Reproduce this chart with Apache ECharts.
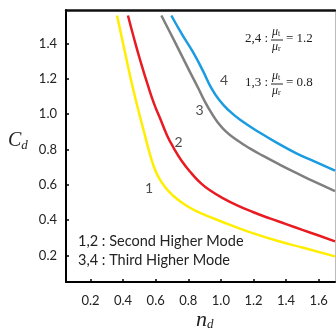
<!DOCTYPE html>
<html><head><meta charset="utf-8">
<script src="https://cdn.jsdelivr.net/npm/echarts@6/dist/echarts.min.js"></script>
<style>html,body{margin:0;padding:0;background:#fff}#c{width:336px;height:333px}</style>
</head><body><div id="c"></div>
<script>
const xTicks = [0.2, 0.4, 0.6, 0.8, 1.0, 1.2, 1.4, 1.6];
const yTicks = [0.2, 0.4, 0.6, 0.8, 1.0, 1.2, 1.4];
// curve 1 (yellow), 2 (red), 3 (gray), 4 (blue): [n_d, C_d]
const curve1 = [[0.363,1.559],[0.40,1.40],[0.44,1.23],[0.47,1.11],[0.50,1.00],[0.53,0.895],[0.56,0.79],[0.59,0.70],[0.62,0.64],[0.66,0.585],[0.70,0.545],[0.76,0.50],[0.84,0.455],[0.96,0.408],[1.06,0.372],[1.20,0.325],[1.35,0.282],[1.50,0.245],[1.70,0.195]];
const curve2 = [[0.43,1.559],[0.47,1.42],[0.51,1.29],[0.55,1.17],[0.59,1.06],[0.63,0.97],[0.67,0.88],[0.71,0.81],[0.76,0.735],[0.82,0.665],[0.88,0.607],[0.94,0.565],[1.00,0.531],[1.10,0.484],[1.20,0.445],[1.30,0.41],[1.40,0.378],[1.50,0.345],[1.60,0.313],[1.70,0.28]];
const curve3 = [[0.635,1.559],[0.69,1.46],[0.75,1.35],[0.81,1.24],[0.86,1.15],[0.90,1.075],[0.94,1.01],[0.98,0.955],[1.03,0.903],[1.10,0.852],[1.18,0.805],[1.257,0.765],[1.36,0.715],[1.462,0.668],[1.58,0.615],[1.70,0.565]];
const curve4 = [[0.696,1.559],[0.76,1.455],[0.83,1.35],[0.89,1.245],[0.94,1.15],[0.99,1.08],[1.05,1.02],[1.12,0.967],[1.24,0.895],[1.35,0.835],[1.46,0.78],[1.58,0.73],[1.70,0.68]];
const curveLabels = [["1",0.56,0.58],["2",0.74,0.84],["3",0.87,1.02],["4",1.02,1.19]];
const modeText = ["1,2 : Second Higher Mode", "3,4 : Third Higher Mode"];

const chart = echarts.init(document.getElementById('c'));
const txt = '#222';
const FF = 'Lato';
function line(data, color){
  return {type:'line', data, smooth:0.5, symbol:'none', lineStyle:{color, width:2.5}, z:3};
}
const labelSeries = {
  type:'scatter', symbolSize:0, data: curveLabels.map(d=>({value:[d[1],d[2]], name:d[0]})),
  label:{show:true, position:'inside', formatter:p=>p.name, fontFamily:FF, fontSize:14, color:txt}
};
function frac(x, y, lead, val){
  return {type:'group', left:x, top:y, children:[
    {type:'text', x:0, y:6, style:{text:lead, font:'13px "Liberation Serif"', fill:txt}},
    {type:'text', x:27, y:0, style:{text:'{m|μ}{s|t}', rich:{m:{font:'italic 12px "Liberation Serif"', fill:txt}, s:{font:'8px "Liberation Serif"', fill:txt, verticalAlign:'bottom'}}}},
    {type:'line', shape:{x1:26, y1:14, x2:38, y2:14}, style:{stroke:txt, lineWidth:1}},
    {type:'text', x:27, y:15, style:{text:'{m|μ}{s|r}', rich:{m:{font:'italic 12px "Liberation Serif"', fill:txt}, s:{font:'8px "Liberation Serif"', fill:txt, verticalAlign:'bottom'}}}},
    {type:'text', x:41, y:6, style:{text:'= ' + val, font:'13px "Liberation Serif"', fill:txt}}
  ]};
}
chart.setOption({
  animation:false,
  grid:{left:66, top:10, right:1, bottom:51},
  xAxis:[{
    type:'value', min:0.05, max:1.7, position:'bottom',
    axisLine:{lineStyle:{color:'#000', width:2}},
    axisTick:{inside:true, length:3, customValues:xTicks, lineStyle:{color:'#000', width:1.5}},
    axisLabel:{customValues:xTicks, formatter:v=>v.toFixed(1), fontFamily:FF, fontSize:13, color:txt, margin:12},
    splitLine:{show:false}
  },{
    type:'value', min:0.05, max:1.7, position:'top',
    axisLine:{lineStyle:{color:'#111', width:2.5}}, axisTick:{show:false}, axisLabel:{show:false}, splitLine:{show:false}
  }],
  yAxis:[{
    type:'value', min:0.05, max:1.59, position:'left',
    axisLine:{lineStyle:{color:'#000', width:2}},
    axisTick:{inside:true, length:3, customValues:yTicks, lineStyle:{color:'#000', width:1.5}},
    axisLabel:{customValues:yTicks, formatter:v=>v.toFixed(1), fontFamily:FF, fontSize:13, color:txt, margin:9},
    splitLine:{show:false}
  },{
    type:'value', min:0.05, max:1.59, position:'right',
    axisLine:{lineStyle:{color:'#bbb', width:1}}, axisTick:{show:false}, axisLabel:{show:false}, splitLine:{show:false}
  }],
  series:[line(curve1,'#ffee00'), line(curve2,'#e81b23'), line(curve3,'#7f7f7f'), line(curve4,'#1b9be0'), labelSeries],
  graphic:[
    {type:'text', left:78, top:234, style:{text:modeText[0], font:'14.5px Lato', fill:txt}},
    {type:'text', left:78, top:253, style:{text:modeText[1], font:'14.5px Lato', fill:txt}},
    frac(245, 26, '2,4 :', '1.2'),
    frac(245, 70, '1,3 :', '0.8'),
    {type:'text', left:196, top:309, style:{text:'{n|n}{d|d}', rich:{n:{font:'italic 22px "Liberation Serif"', fill:txt}, d:{font:'italic 13px "Liberation Serif"', fill:txt, verticalAlign:'bottom', padding:[10,0,0,0]}}}},
    {type:'text', left:8, top:131, style:{text:'{n|C}{d|d}', rich:{n:{font:'italic 20px "Liberation Serif"', fill:txt}, d:{font:'italic 13px "Liberation Serif"', fill:txt, verticalAlign:'bottom', padding:[10,0,0,0]}}}}
  ]
});
</script></body></html>
